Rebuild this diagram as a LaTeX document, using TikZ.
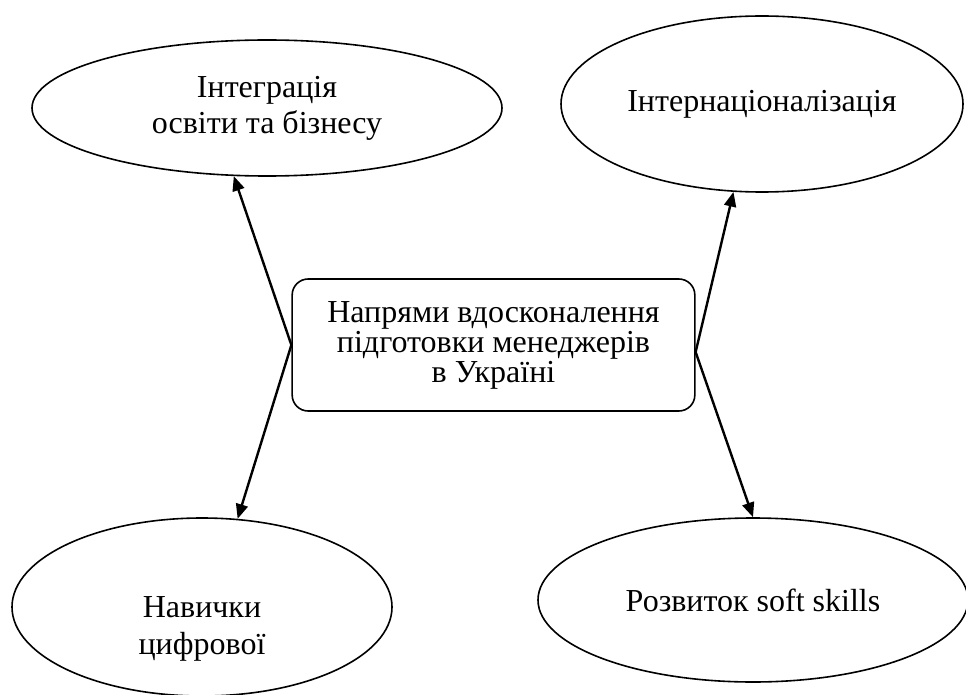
\documentclass[tikz,border=0pt]{standalone}
\usepackage{fontspec}
\setmainfont{Liberation Serif}
\usetikzlibrary{arrows.meta,shapes.geometric}

\begin{document}
\begin{tikzpicture}[x=0.75pt,y=-0.75pt,line join=round, line cap=round,>={Triangle[length=11pt,width=9pt]}]

		\tikzset{oval/.style={draw,ellipse,line width=1.2pt,inner sep=0pt,align=center,font=\fontsize{24pt}{27pt}\selectfont}}
		\tikzset{txt/.style={align=center,inner sep=0pt,font=\fontsize{24pt}{28pt}\selectfont}}
		\tikzset{mainbox/.style={draw,rectangle,rounded corners=12pt,line width=1.2pt,align=center,font=\fontsize{24pt}{22.5pt}\selectfont}}

		\path[use as bounding box,clip] (0,0) rectangle (966,695);
		\fill[white] (0,0) rectangle (966,695);

		\node (c) [mainbox,minimum width=302pt,minimum height=99pt] at (493.5,345) {Напрями вдосконалення\\підготовки менеджерів\\в Україні};

		\node (tl) [oval,minimum width=352.5pt,minimum height=102pt] at (267,108) {Інтеграція\\освіти та бізнесу};
		\node (tr) [oval,minimum width=301.5pt,minimum height=132pt] at (762,104) {Інтернаціоналізація};
		\node (bl) [oval,minimum width=285pt,minimum height=133.5pt] at (202,607) {};
		\node (bltext) [txt] at (202,629) {Навички\\цифрової};
		\node (br) [oval,minimum width=322.5pt,minimum height=123pt] at (753,600) {Розвиток soft skills};

		\draw[->,line width=1.8pt] (c.west) -- (tl.244);
		\draw[->,line width=1.8pt] (c.west) -- (bl.68);
		\draw[->,line width=1.8pt] (c.-2) -- (tr.252);
		\draw[->,line width=1.8pt] (c.-2) -- (br.90);
		\end{tikzpicture}
\end{document}
